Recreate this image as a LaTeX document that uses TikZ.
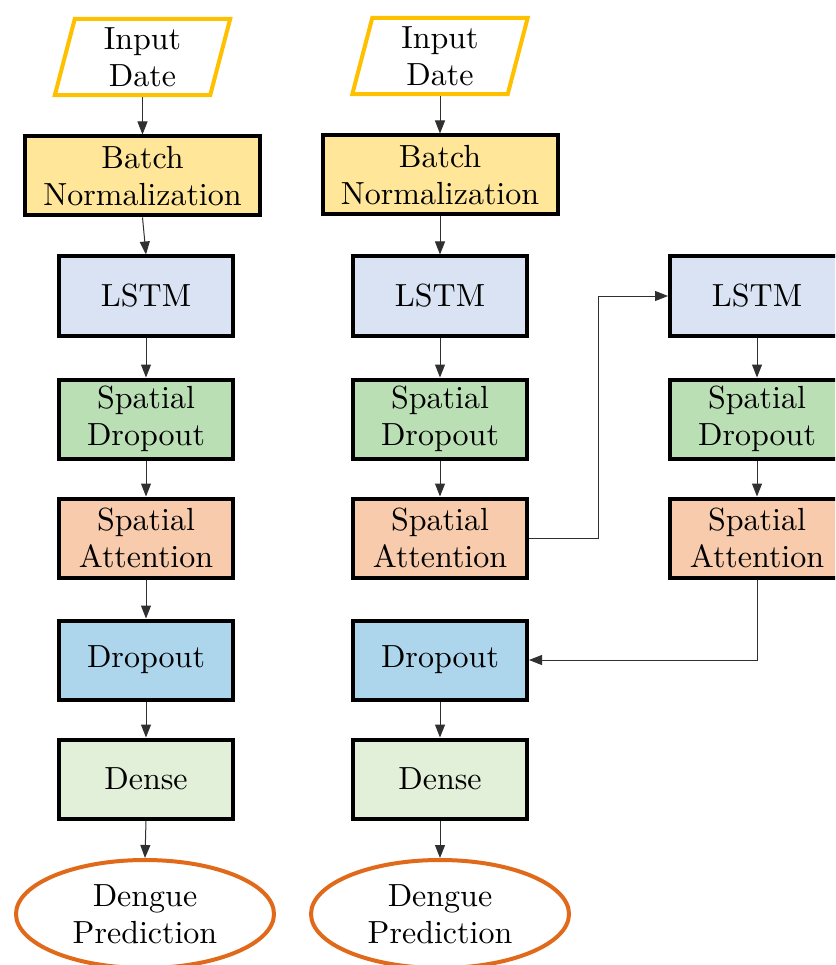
\documentclass[tikz,border=0pt]{standalone}
\usepackage{fontspec}
\newfontfamily\lmten{lmroman10-regular}[Extension=.otf]
\usetikzlibrary{arrows.meta,shapes.geometric,calc}
\definecolor{inyellow}{HTML}{FFC000}
\definecolor{batchc}{HTML}{FFE699}
\definecolor{lstmc}{HTML}{DAE3F3}
\definecolor{sdc}{HTML}{BBDFB5}
\definecolor{sac}{HTML}{F8CBAD}
\definecolor{doc}{HTML}{ADD5EC}
\definecolor{densec}{HTML}{E2F0D9}
\definecolor{predc}{HTML}{E06A1A}
\definecolor{linec}{HTML}{303030}
\newcommand{\figfont}{\lmten\fontsize{32}{37}\selectfont}
\tikzset{
  lbox/.style={draw=black, line width=4pt, minimum width=174pt, minimum height=79pt, inner sep=0pt, align=center, font=\figfont},
  bbox/.style={lbox, minimum width=235pt, fill=batchc},
  inbox/.style={inner sep=0pt, minimum width=155pt, minimum height=76pt, align=center, font=\figfont},
  inline/.style={draw=inyellow, line width=4pt, line join=miter},
  pred/.style={ellipse, draw=predc, line width=4pt, minimum width=258pt, minimum height=108pt, inner sep=0pt, align=center, font=\figfont},
  arr/.style={draw=linec, line width=1pt, -{Triangle[length=13pt,width=10pt]}}
}
\begin{document}
\begin{tikzpicture}[x=1pt,y=-1pt]
\clip (0,0) rectangle (835,965);
\fill[white] (0,0) rectangle (835,965);
% column 1
\node[inbox] (in1) at (142.5,57) {Input\\Date};
\draw[inline] ([xshift=10pt]in1.north west) -- ([xshift=10pt]in1.north east) -- ([xshift=-10pt]in1.south east) -- ([xshift=-10pt]in1.south west) -- cycle;
\node[bbox] (bn1) at (142.5,176) {Batch\\Normalization};
\node[lbox, fill=lstmc] (ls1) at (146,296) {LSTM};
\node[lbox, fill=sdc] (sd1) at (146,419) {Spatial\\Dropout};
\node[lbox, fill=sac] (sa1) at (146,538) {Spatial\\Attention};
\node[lbox, fill=doc] (do1) at (146,660) {Dropout};
\node[lbox, fill=densec] (de1) at (146,779) {Dense};
\node[pred] (pr1) at (145,914) {Dengue\\Prediction};
% column 2
\node[inbox] (in2) at (440,56) {Input\\Date};
\draw[inline] ([xshift=10pt]in2.north west) -- ([xshift=10pt]in2.north east) -- ([xshift=-10pt]in2.south east) -- ([xshift=-10pt]in2.south west) -- cycle;
\node[bbox] (bn2) at (440,175) {Batch\\Normalization};
\node[lbox, fill=lstmc] (ls2) at (440,296) {LSTM};
\node[lbox, fill=sdc] (sd2) at (440,419) {Spatial\\Dropout};
\node[lbox, fill=sac] (sa2) at (440,538) {Spatial\\Attention};
\node[lbox, fill=doc] (do2) at (440,660) {Dropout};
\node[lbox, fill=densec] (de2) at (440,779) {Dense};
\node[pred] (pr2) at (440,914) {Dengue\\Prediction};
% column 3
\node[lbox, fill=lstmc] (ls3) at (757,296) {LSTM};
\node[lbox, fill=sdc] (sd3) at (757,419) {Spatial\\Dropout};
\node[lbox, fill=sac] (sa3) at (757,538) {Spatial\\Attention};
\coordinate (bend) at (598,538);
% arrows column 1
\draw[arr] ([yshift=-2pt]in1.south) -- (bn1.north);
\draw[arr] (bn1.south) -- (ls1.north);
\draw[arr] (ls1.south) -- (sd1.north);
\draw[arr] (sd1.south) -- (sa1.north);
\draw[arr] (sa1.south) -- (do1.north);
\draw[arr] (do1.south) -- (de1.north);
\draw[arr] (de1.south) -- (pr1.north);
% arrows column 2
\draw[arr] ([yshift=-2pt]in2.south) -- (bn2.north);
\draw[arr] (bn2.south) -- (ls2.north);
\draw[arr] (ls2.south) -- (sd2.north);
\draw[arr] (sd2.south) -- (sa2.north);
\draw[arr] (do2.south) -- (de2.north);
\draw[arr] (de2.south) -- (pr2.north);
% column 3 and cross links
\draw[arr] (ls3.south) -- (sd3.north);
\draw[arr] (sd3.south) -- (sa3.north);
\draw[arr] (sa2.east) -- (bend) |- (ls3.west);
\draw[arr] (sa3.south) |- (do2.east);
\end{tikzpicture}
\end{document}
